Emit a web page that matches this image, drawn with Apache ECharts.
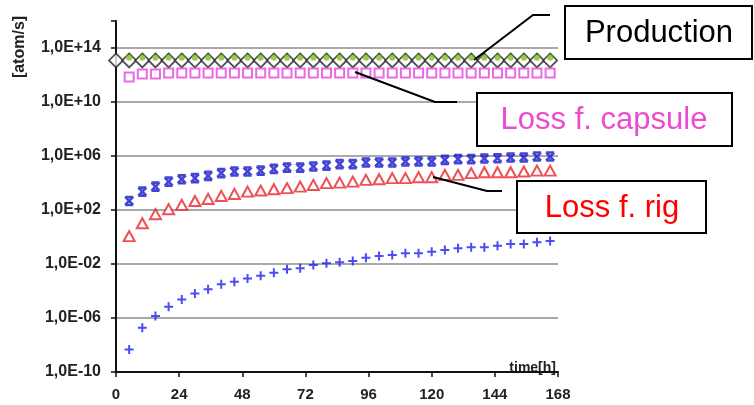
<!DOCTYPE html>
<html><head><meta charset="utf-8">
<script src="https://cdn.jsdelivr.net/npm/echarts@6/dist/echarts.min.js"></script>
<style>html,body{margin:0;padding:0;background:#fff}#c{width:754px;height:405px}</style>
</head><body><div id="c"></div>
<script>
// ---- data ----
const prodTimes = [0,5,10,15,20,25,30,35,40,45,50,55,60,65,70,75,80,85,90,95,100,105,110,115,120,125,130,135,140,145,150,155,160,165];
const lossTimes = [5,10,15,20,25,30,35,40,45,50,55,60,65,70,75,80,85,90,95,100,105,110,115,120,125,130,135,140,145,150,155,160,165];
const production = [1.2e13,1.2e13,1.2e13,1.2e13,1.2e13,1.2e13,1.2e13,1.2e13,1.2e13,1.2e13,1.2e13,1.2e13,1.2e13,1.2e13,1.2e13,1.2e13,1.2e13,1.2e13,1.2e13,1.2e13,1.2e13,1.2e13,1.2e13,1.2e13,1.2e13,1.2e13,1.2e13,1.2e13,1.2e13,1.2e13,1.2e13,1.2e13,1.2e13,1.2e13];
const productionInner = [1.9e13,1.9e13,1.9e13,1.9e13,1.9e13,1.9e13,1.9e13,1.9e13,1.9e13,1.9e13,1.9e13,1.9e13,1.9e13,1.9e13,1.9e13,1.9e13,1.9e13,1.9e13,1.9e13,1.9e13,1.9e13,1.9e13,1.9e13,1.9e13,1.9e13,1.9e13,1.9e13,1.9e13,1.9e13,1.9e13,1.9e13,1.9e13,1.9e13];
const lossCapsule = [7.2e11,1.2e12,1.2e12,1.4e12,1.4e12,1.4e12,1.4e12,1.4e12,1.4e12,1.4e12,1.4e12,1.4e12,1.4e12,1.4e12,1.4e12,1.4e12,1.4e12,1.4e12,1.4e12,1.4e12,1.4e12,1.4e12,1.4e12,1.4e12,1.4e12,1.4e12,1.4e12,1.4e12,1.4e12,1.4e12,1.4e12,1.4e12,1.4e12];
const lossStar = [4.7e2,2.3e3,5.4e3,1.26e4,1.9e4,2.3e4,3.4e4,5.4e4,7.1e4,7.1e4,8.3e4,1.12e5,1.38e5,1.38e5,1.66e5,1.95e5,2.5e5,2.5e5,3.3e5,3.3e5,3.3e5,3.9e5,3.9e5,3.9e5,5.2e5,5.9e5,5.9e5,6.5e5,6.9e5,7.8e5,7.8e5,9.1e5,9.1e5];
const lossRig = [1.17,10.5,49,115,240,468,660,1100,1550,2300,2750,3470,4170,5400,7200,9800,1.07e4,1.26e4,1.7e4,1.9e4,2.3e4,2.3e4,2.7e4,2.7e4,4.0e4,4.0e4,5.4e4,6.3e4,6.3e4,6.3e4,7.1e4,8.3e4,8.3e4];
const lossPlus = [4.6e-9,1.86e-7,1.38e-6,6.8e-6,2.3e-5,6.6e-5,1.32e-4,3.1e-4,4.8e-4,8.5e-4,1.35e-3,2.24e-3,4.0e-3,4.8e-3,8.3e-3,1.12e-2,1.32e-2,1.66e-2,2.9e-2,3.9e-2,4.6e-2,6.2e-2,6.2e-2,8.1e-2,0.107,0.145,0.174,0.174,0.224,0.302,0.302,0.407,0.5];
const xTicks = [0,24,48,72,96,120,144,168];
const yMin = 1e-10, yMax = 1e16;
const labels = {production:'Production', capsule:'Loss f. capsule', rig:'Loss f. rig', yName:'[atom/s]', xName:'time[h]'};

function pairs(xs, ys){ return xs.map((x,i)=>[x, ys[i]]); }
function fmtExp(v){
  const e = Math.round(Math.log10(v));
  if (e >= 16) return '';
  const a = Math.abs(e);
  return '1,0E' + (e >= 0 ? '+' : '-') + (a < 10 ? '0' + a : a);
}
const FONT = "'Liberation Sans', Arial, sans-serif";
const chart = echarts.init(document.getElementById('c'), null, {renderer:'canvas'});
chart.setOption({
  animation:false,
  backgroundColor:'#fff',
  grid:{left:116, right:196, top:21, bottom:33, outerBoundsMode:'none', containLabel:false},
  xAxis:{
    type:'value', min:xTicks[0], max:xTicks[xTicks.length-1], interval:24,
    name:labels.xName, nameLocation:'end', nameGap:-2,
    nameTextStyle:{fontFamily:FONT, fontWeight:'bold', fontSize:14, color:'#222', align:'right', verticalAlign:'bottom', padding:[0,0,-3,0]},
    axisLine:{show:true, lineStyle:{color:'#111', width:2}},
    axisTick:{show:true, inside:false, length:5, lineStyle:{color:'#111', width:1.5}},
    axisLabel:{fontFamily:FONT, fontWeight:'bold', fontSize:15, color:'#222', margin:15},
    splitLine:{show:false}
  },
  yAxis:{
    type:'log', logBase:10, min:yMin, max:yMax, interval:4,
    axisLine:{show:true, lineStyle:{color:'#111', width:2}},
    axisTick:{show:true, inside:false, length:5, lineStyle:{color:'#111', width:1.5}},
    axisLabel:{fontFamily:FONT, fontWeight:'bold', fontSize:16, color:'#222', margin:15, formatter:fmtExp},
    splitLine:{show:true, showMinLine:false, showMaxLine:false, lineStyle:{color:'#8c8c8c', width:1.5}}
  },
  series:[
    {name:'prod', type:'scatter', data:pairs(prodTimes, production), symbol:'diamond', symbolSize:[14,14],
      itemStyle:{color:'#fff', borderColor:'#262626', borderWidth:1.8}, z:3},
    {name:'prodInner', type:'scatter', data:pairs(lossTimes, productionInner), symbol:'circle', symbolSize:6,
      itemStyle:{color:'#7cc21a'}, z:4},
    {name:'capsule', type:'scatter', data:pairs(lossTimes, lossCapsule), symbol:'rect', symbolSize:[9,9],
      itemStyle:{color:'#fff', borderColor:'#e545e0', borderWidth:2}, z:3},
    {name:'star', type:'scatter', data:pairs(lossTimes, lossStar), symbol:'path://M0,0 L10,0 M0,10 L10,10 M0,0 L10,10 M10,0 L0,10', symbolSize:[8,8],
      itemStyle:{color:'rgba(0,0,0,0)', borderColor:'#1616c8', borderWidth:2.6}, z:3},
    {name:'rig', type:'scatter', data:pairs(lossTimes, lossRig), symbol:'triangle', symbolSize:[11,10],
      itemStyle:{color:'#fff', borderColor:'#e8262b', borderWidth:2}, z:3},
    {name:'plus', type:'scatter', data:pairs(lossTimes, lossPlus), symbol:'path://M5,0 L5,10 M0,5 L10,5', symbolSize:[9,9],
      itemStyle:{color:'rgba(0,0,0,0)', borderColor:'#1f1ff0', borderWidth:2}, z:3}
  ],
  graphic:[
    {type:'text', x:20, y:47, rotation:Math.PI/2, style:{text:labels.yName, fontFamily:FONT, fontWeight:'bold', fontSize:16, fill:'#222', align:'center', verticalAlign:'middle'}},
    {type:'polyline', shape:{points:[[550,15],[533,15],[474,60]]}, style:{stroke:'#000', lineWidth:2, fill:null}, z:10},
    {type:'polyline', shape:{points:[[457,102],[435,102],[355,72]]}, style:{stroke:'#000', lineWidth:2, fill:null}, z:10},
    {type:'polyline', shape:{points:[[502,191],[487,191],[433,177]]}, style:{stroke:'#000', lineWidth:2, fill:null}, z:10},
    {type:'rect', shape:{x:565, y:6, width:187, height:53}, style:{fill:'#fff', stroke:'#000', lineWidth:2}, z:10},
    {type:'text', x:659, y:33, style:{text:labels.production, fontFamily:FONT, fontSize:31, fill:'#000', align:'center', verticalAlign:'middle'}, z:11},
    {type:'rect', shape:{x:477, y:93, width:255, height:53}, style:{fill:'#fff', stroke:'#000', lineWidth:2}, z:10},
    {type:'text', x:604, y:120, style:{text:labels.capsule, fontFamily:FONT, fontSize:31, fill:'#ea4cd0', align:'center', verticalAlign:'middle'}, z:11},
    {type:'rect', shape:{x:517, y:181, width:189, height:52}, style:{fill:'#fff', stroke:'#000', lineWidth:2}, z:10},
    {type:'text', x:612, y:208, style:{text:labels.rig, fontFamily:FONT, fontSize:31, fill:'#ff0000', align:'center', verticalAlign:'middle'}, z:11}
  ]
});
</script>
</body></html>
